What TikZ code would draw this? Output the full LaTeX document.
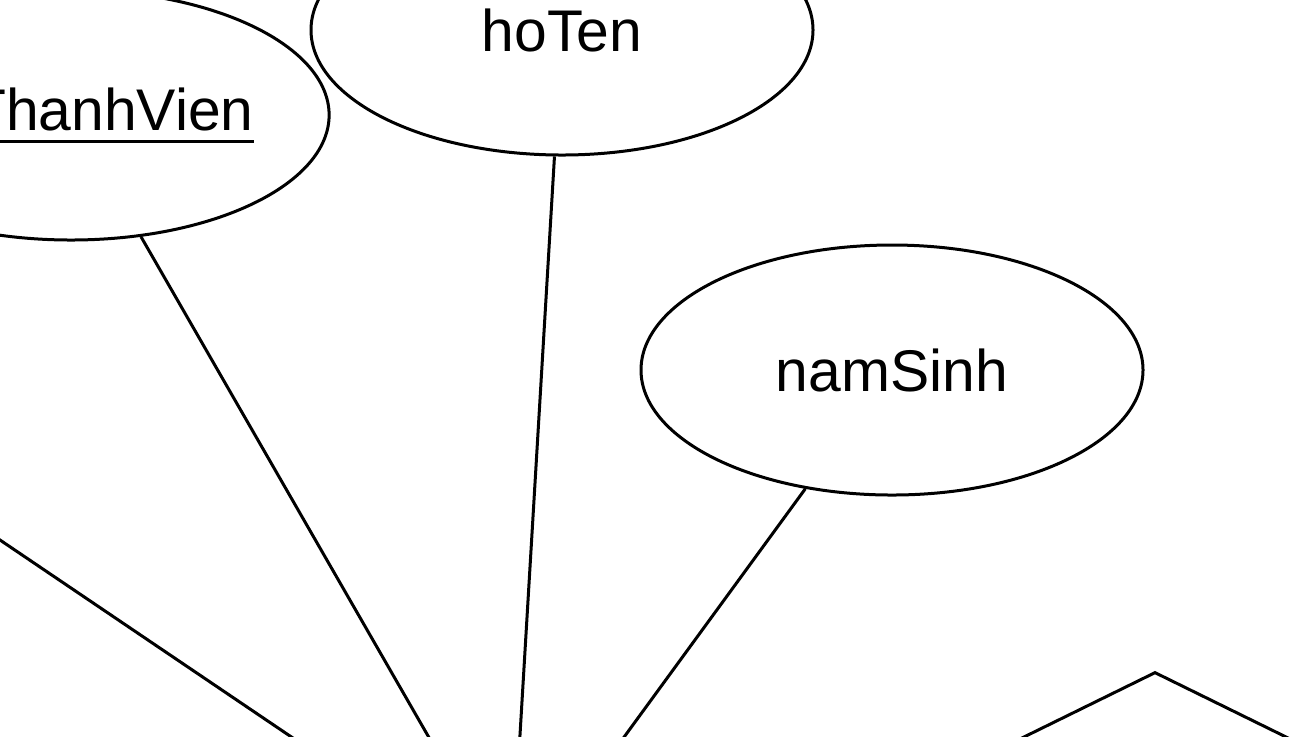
\documentclass[tikz,border=0pt]{standalone}
\usepackage{fontspec}
\setmainfont{Liberation Sans}
\usetikzlibrary{shapes.geometric}
\newcommand{\keyattr}[1]{\setbox0\hbox{#1}\rlap{\rule[-6.25pt]{\wd0}{1.5pt}}#1}
\tikzset{
  attr/.style={draw,ellipse,line width=1.5pt,inner sep=0pt,
    minimum width=251pt,minimum height=125pt,
    font=\fontsize{29.4}{35}\selectfont},
  rel/.style={draw,diamond,line width=1.5pt,inner sep=0pt,
    minimum width=260pt,minimum height=128pt},
  link/.style={line width=1.5pt}
}
\begin{document}
\begin{tikzpicture}[x=0.5pt,y=-0.5pt]
\useasboundingbox (0,0) rectangle (1309,736);
\clip (0,0) rectangle (1309,736);
% maThanhVien
\node[attr] (ma) at (71,115) {\keyattr{maThanhVien}};
% hoTen
\node[attr] (ht) at (562,30) {hoTen};
% namSinh
\node[attr] (ns) at (892,370) {namSinh};
% relationship
\node[rel] (r) at (1155,800) {};
% ends below the frame
\coordinate (e0) at (-100,472.4);
\coordinate (e1) at (325.5,760);
\coordinate (e2) at (441.9,760);
\coordinate (e3) at (518.5,760);
\coordinate (e4) at (607.3,760);
% links
\draw[link] (e0) -- (e1);
\draw[link] (ma) -- (e2);
\draw[link] (ht) -- (e3);
\draw[link] (ns) -- (e4);
\end{tikzpicture}
\end{document}
